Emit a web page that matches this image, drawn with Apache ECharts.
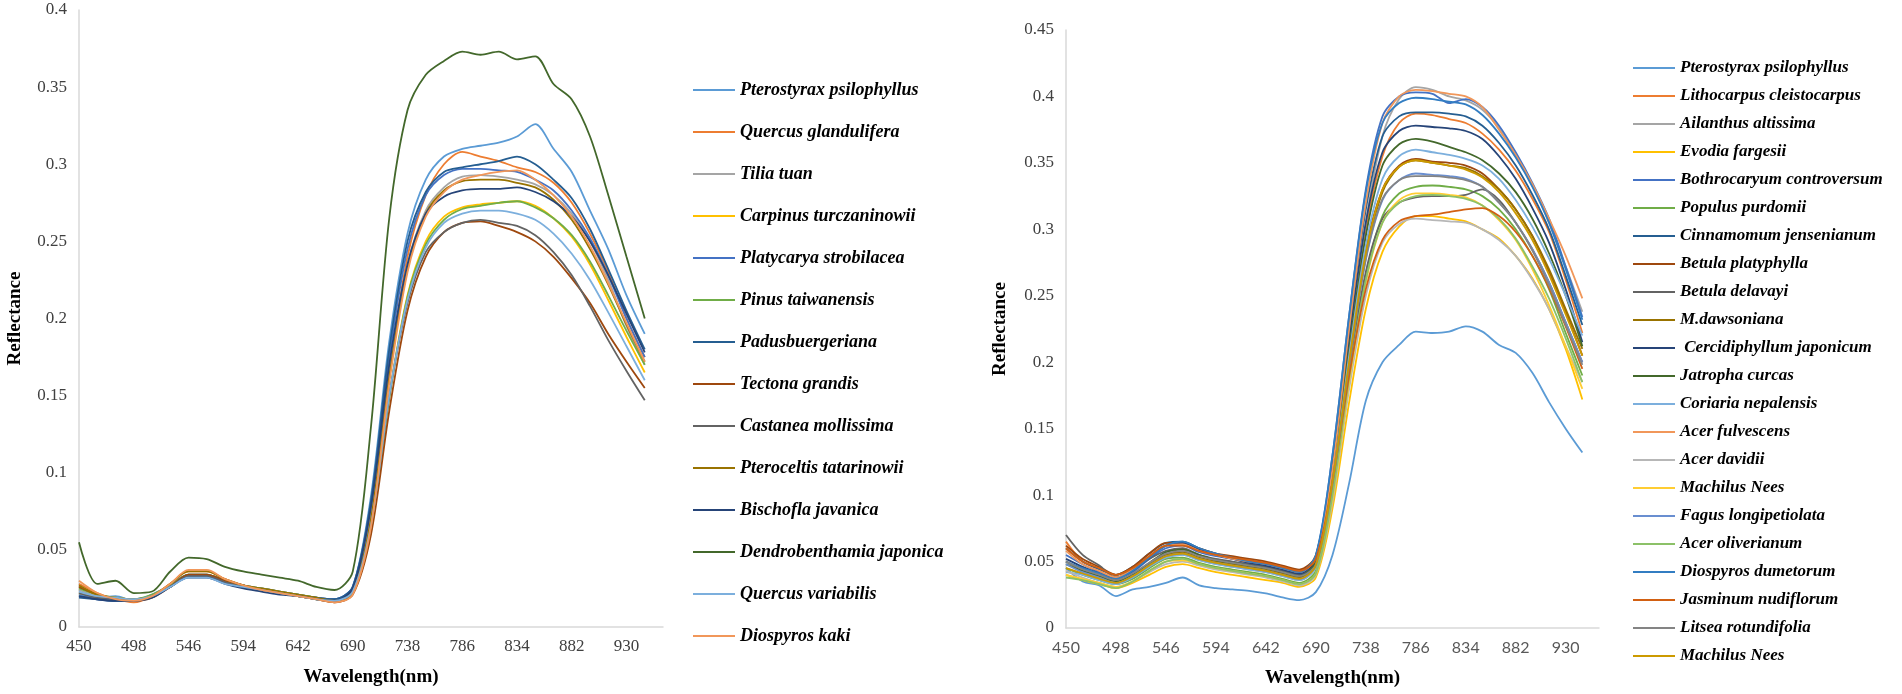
<!DOCTYPE html>
<html>
<head>
<meta charset="utf-8" />
<title>Leaf reflectance spectra</title>
<script src="https://cdn.jsdelivr.net/npm/echarts@6/dist/echarts.min.js"></script>
<style>html,body{margin:0;padding:0;background:#fff;}</style>
</head>
<body>
<div id="main" style="width:1902px;height:694px;"></div>
<script type="text/javascript">

// wavelength categories (nm), every 16 nm; 962 only extends the axis
var wavelengths = ['450','466','482','498','514','530','546','562','578','594','610','626','642','658','674','690',
  '706','722','738','754','770','786','802','818','834','850','866','882','898','914','930','946','962'];

// ---- left chart ----
var leftNames = ['Pterostyrax psilophyllus','Quercus glandulifera','Tilia tuan','Carpinus turczaninowii',
  'Platycarya strobilacea','Pinus taiwanensis','Padusbuergeriana','Tectona grandis','Castanea mollissima',
  'Pteroceltis tatarinowii','Bischofla javanica','Dendrobenthamia japonica','Quercus variabilis','Diospyros kaki'];

var lPterostyrax = [0.021,0.019,0.02,0.017,0.021,0.027,0.033,0.033,0.029,0.026,0.024,0.022,0.021,0.019,0.018,0.026,0.085,0.185,0.255,0.29,0.305,0.31,0.312,0.314,0.318,0.326,0.31,0.295,0.27,0.245,0.215,0.19];
var lQuercusG = [0.028,0.022,0.018,0.016,0.02,0.028,0.036,0.036,0.031,0.027,0.024,0.022,0.02,0.018,0.016,0.022,0.07,0.165,0.24,0.28,0.3,0.308,0.305,0.302,0.298,0.295,0.288,0.275,0.255,0.23,0.2,0.175];
var lTilia = [0.024,0.02,0.018,0.018,0.02,0.027,0.034,0.034,0.03,0.027,0.025,0.023,0.021,0.019,0.018,0.025,0.075,0.165,0.235,0.27,0.285,0.292,0.293,0.292,0.29,0.287,0.28,0.268,0.25,0.225,0.195,0.17];
var lCarpinus = [0.022,0.02,0.019,0.018,0.02,0.026,0.033,0.033,0.029,0.026,0.024,0.022,0.02,0.018,0.017,0.023,0.065,0.15,0.215,0.25,0.266,0.272,0.274,0.275,0.276,0.273,0.265,0.253,0.235,0.212,0.188,0.165];
var lPlatycarya = [0.02,0.018,0.017,0.018,0.02,0.027,0.034,0.034,0.03,0.027,0.025,0.023,0.021,0.019,0.018,0.026,0.08,0.175,0.245,0.28,0.293,0.297,0.297,0.296,0.295,0.29,0.283,0.27,0.252,0.228,0.2,0.175];
var lPinus = [0.025,0.021,0.019,0.018,0.021,0.027,0.034,0.034,0.03,0.027,0.025,0.023,0.021,0.019,0.017,0.022,0.062,0.148,0.214,0.248,0.264,0.271,0.273,0.275,0.276,0.272,0.265,0.254,0.237,0.215,0.192,0.17];
var lPadus = [0.019,0.018,0.017,0.017,0.02,0.026,0.033,0.033,0.029,0.026,0.024,0.022,0.02,0.019,0.018,0.026,0.082,0.18,0.25,0.282,0.295,0.298,0.3,0.302,0.305,0.3,0.29,0.278,0.258,0.232,0.205,0.18];
var lTectona = [0.026,0.021,0.018,0.017,0.019,0.026,0.034,0.034,0.03,0.027,0.024,0.022,0.02,0.018,0.016,0.021,0.06,0.14,0.205,0.24,0.256,0.262,0.263,0.26,0.256,0.25,0.24,0.226,0.21,0.19,0.172,0.155];
var lCastanea = [0.022,0.019,0.018,0.017,0.02,0.026,0.033,0.033,0.029,0.026,0.024,0.022,0.02,0.018,0.017,0.024,0.068,0.15,0.21,0.243,0.256,0.262,0.264,0.262,0.26,0.254,0.243,0.228,0.208,0.186,0.166,0.147];
var lPteroceltis = [0.027,0.021,0.019,0.018,0.02,0.028,0.036,0.036,0.031,0.027,0.025,0.023,0.021,0.019,0.017,0.023,0.07,0.162,0.232,0.268,0.283,0.289,0.29,0.29,0.288,0.285,0.277,0.264,0.245,0.222,0.196,0.172];
var lBischofla = [0.02,0.018,0.017,0.017,0.019,0.026,0.032,0.032,0.028,0.025,0.023,0.021,0.02,0.018,0.017,0.025,0.078,0.17,0.235,0.268,0.279,0.283,0.284,0.284,0.285,0.282,0.276,0.266,0.25,0.228,0.203,0.178];
var lDendro = [0.055,0.028,0.03,0.022,0.023,0.036,0.045,0.044,0.039,0.036,0.034,0.032,0.03,0.026,0.024,0.036,0.13,0.265,0.335,0.358,0.367,0.373,0.371,0.373,0.368,0.37,0.352,0.342,0.318,0.28,0.24,0.2];
var lQuercusV = [0.023,0.02,0.019,0.018,0.02,0.026,0.032,0.032,0.028,0.026,0.024,0.022,0.02,0.018,0.017,0.023,0.066,0.15,0.212,0.246,0.262,0.268,0.27,0.27,0.268,0.264,0.255,0.242,0.225,0.204,0.182,0.16];
var lDiospyros = [0.03,0.022,0.018,0.017,0.02,0.028,0.037,0.037,0.031,0.027,0.024,0.022,0.02,0.018,0.016,0.021,0.065,0.158,0.23,0.266,0.282,0.29,0.293,0.295,0.296,0.29,0.28,0.266,0.247,0.223,0.197,0.172];

var leftValues = [lPterostyrax,lQuercusG,lTilia,lCarpinus,lPlatycarya,lPinus,lPadus,lTectona,lCastanea,
  lPteroceltis,lBischofla,lDendro,lQuercusV,lDiospyros];

// ---- right chart ----
var rightNames = ['Pterostyrax psilophyllus','Lithocarpus cleistocarpus','Ailanthus altissima','Evodia fargesii',
  'Bothrocaryum controversum','Populus purdomii','Cinnamomum jensenianum','Betula platyphylla','Betula delavayi',
  'M.dawsoniana',' Cercidiphyllum japonicum','Jatropha curcas','Coriaria nepalensis','Acer fulvescens','Acer davidii',
  'Machilus Nees','Fagus longipetiolata','Acer oliverianum','Diospyros dumetorum','Jasminum nudiflorum',
  'Litsea rotundifolia','Machilus Nees\u00a0'];

var rPterostyrax = [0.045,0.035,0.032,0.024,0.029,0.031,0.034,0.038,0.032,0.03,0.029,0.028,0.026,0.023,0.021,0.027,0.055,0.109,0.171,0.2,0.213,0.223,0.222,0.223,0.227,0.223,0.213,0.207,0.192,0.17,0.15,0.132];
var rLithocarpus = [0.065,0.05,0.045,0.04,0.045,0.054,0.062,0.063,0.058,0.055,0.053,0.051,0.049,0.046,0.043,0.055,0.12,0.215,0.3,0.355,0.38,0.387,0.386,0.383,0.38,0.372,0.36,0.344,0.323,0.298,0.262,0.222];
var rAilanthus = [0.05,0.042,0.038,0.034,0.038,0.046,0.053,0.055,0.051,0.048,0.046,0.044,0.042,0.039,0.036,0.046,0.11,0.21,0.305,0.37,0.398,0.407,0.405,0.4,0.397,0.39,0.376,0.356,0.333,0.305,0.272,0.238];
var rEvodia = [0.04,0.036,0.033,0.03,0.034,0.04,0.046,0.048,0.045,0.042,0.04,0.038,0.036,0.034,0.031,0.038,0.09,0.17,0.24,0.283,0.302,0.31,0.31,0.308,0.306,0.3,0.293,0.28,0.263,0.24,0.21,0.172];
var rBothrocaryum = [0.055,0.048,0.042,0.038,0.042,0.052,0.06,0.062,0.057,0.054,0.052,0.049,0.047,0.044,0.041,0.054,0.13,0.235,0.33,0.385,0.4,0.403,0.402,0.395,0.398,0.392,0.378,0.358,0.335,0.308,0.272,0.234];
var rPopulus = [0.045,0.04,0.036,0.033,0.037,0.045,0.052,0.053,0.049,0.046,0.044,0.042,0.04,0.037,0.034,0.043,0.1,0.19,0.265,0.31,0.327,0.332,0.333,0.332,0.33,0.325,0.315,0.3,0.28,0.255,0.222,0.19];
var rCinnamomum = [0.06,0.05,0.044,0.04,0.046,0.056,0.064,0.065,0.06,0.056,0.053,0.05,0.048,0.045,0.042,0.054,0.125,0.225,0.315,0.37,0.385,0.388,0.388,0.387,0.385,0.378,0.365,0.348,0.326,0.3,0.265,0.228];
var rBetulaP = [0.062,0.052,0.046,0.04,0.046,0.056,0.064,0.064,0.06,0.056,0.054,0.052,0.05,0.047,0.044,0.054,0.115,0.205,0.285,0.33,0.348,0.353,0.351,0.35,0.348,0.342,0.33,0.315,0.295,0.268,0.238,0.205];
var rBetulaD = [0.07,0.055,0.047,0.038,0.044,0.052,0.058,0.06,0.055,0.052,0.05,0.048,0.046,0.043,0.04,0.05,0.11,0.195,0.268,0.308,0.32,0.324,0.325,0.325,0.326,0.33,0.322,0.305,0.285,0.26,0.23,0.2];
var rDawsoniana = [0.05,0.044,0.04,0.036,0.04,0.048,0.055,0.057,0.053,0.05,0.048,0.046,0.044,0.041,0.038,0.048,0.11,0.2,0.28,0.328,0.347,0.352,0.35,0.348,0.346,0.34,0.33,0.315,0.295,0.27,0.24,0.21];
var rCercidiphyllum = [0.052,0.046,0.041,0.037,0.043,0.053,0.062,0.064,0.059,0.055,0.052,0.049,0.047,0.044,0.041,0.052,0.12,0.218,0.305,0.358,0.374,0.378,0.377,0.376,0.374,0.368,0.355,0.338,0.316,0.29,0.255,0.215];
var rJatropha = [0.048,0.043,0.039,0.035,0.04,0.049,0.057,0.059,0.055,0.051,0.049,0.047,0.045,0.042,0.039,0.05,0.115,0.21,0.295,0.348,0.364,0.368,0.366,0.362,0.358,0.352,0.342,0.328,0.308,0.282,0.25,0.212];
var rCoriaria = [0.042,0.04,0.036,0.033,0.038,0.046,0.053,0.055,0.051,0.048,0.046,0.044,0.042,0.039,0.036,0.046,0.11,0.205,0.288,0.338,0.355,0.36,0.358,0.356,0.353,0.348,0.338,0.322,0.302,0.278,0.25,0.22];
var rAcerF = [0.058,0.048,0.043,0.038,0.044,0.054,0.062,0.063,0.058,0.055,0.052,0.05,0.048,0.045,0.042,0.053,0.12,0.225,0.32,0.38,0.4,0.405,0.404,0.402,0.4,0.392,0.375,0.356,0.334,0.308,0.28,0.248];
var rAcerD = [0.043,0.038,0.034,0.031,0.035,0.042,0.048,0.05,0.047,0.044,0.042,0.04,0.038,0.035,0.032,0.04,0.095,0.18,0.25,0.29,0.304,0.308,0.307,0.306,0.305,0.3,0.292,0.28,0.262,0.24,0.212,0.185];
var rMachilus1 = [0.04,0.037,0.034,0.031,0.035,0.043,0.05,0.051,0.048,0.045,0.043,0.041,0.039,0.036,0.033,0.041,0.098,0.185,0.26,0.305,0.322,0.327,0.327,0.326,0.324,0.318,0.307,0.292,0.27,0.243,0.212,0.18];
var rFagus = [0.048,0.042,0.038,0.034,0.039,0.047,0.054,0.056,0.052,0.049,0.047,0.045,0.043,0.04,0.037,0.047,0.108,0.198,0.277,0.322,0.337,0.342,0.341,0.34,0.338,0.332,0.32,0.305,0.285,0.26,0.23,0.2];
var rAcerO = [0.038,0.036,0.033,0.03,0.035,0.043,0.05,0.052,0.048,0.045,0.043,0.041,0.039,0.036,0.033,0.041,0.1,0.188,0.262,0.305,0.32,0.325,0.326,0.325,0.323,0.318,0.308,0.293,0.272,0.248,0.218,0.185];
var rDiospyros = [0.05,0.045,0.041,0.037,0.043,0.053,0.062,0.065,0.06,0.056,0.053,0.05,0.048,0.045,0.042,0.055,0.13,0.235,0.328,0.38,0.395,0.399,0.398,0.396,0.394,0.386,0.372,0.354,0.332,0.305,0.27,0.232];
var rJasminum = [0.06,0.05,0.045,0.04,0.045,0.054,0.062,0.062,0.058,0.055,0.053,0.051,0.049,0.046,0.043,0.052,0.11,0.19,0.255,0.292,0.306,0.31,0.311,0.313,0.315,0.316,0.31,0.298,0.28,0.256,0.227,0.195];
var rLitsea = [0.05,0.044,0.04,0.036,0.041,0.049,0.056,0.058,0.054,0.051,0.049,0.047,0.045,0.042,0.039,0.048,0.108,0.198,0.278,0.323,0.337,0.34,0.34,0.339,0.337,0.332,0.32,0.305,0.284,0.258,0.228,0.198];
var rMachilus2 = [0.045,0.041,0.037,0.034,0.039,0.047,0.054,0.056,0.052,0.049,0.047,0.045,0.043,0.04,0.037,0.047,0.11,0.2,0.282,0.33,0.347,0.352,0.35,0.348,0.345,0.339,0.328,0.312,0.292,0.266,0.236,0.205];

var rightValues = [rPterostyrax,rLithocarpus,rAilanthus,rEvodia,rBothrocaryum,rPopulus,rCinnamomum,rBetulaP,
  rBetulaD,rDawsoniana,rCercidiphyllum,rJatropha,rCoriaria,rAcerF,rAcerD,rMachilus1,rFagus,rAcerO,rDiospyros,
  rJasminum,rLitsea,rMachilus2];

// office palette
var palette = ['#5B9BD5','#ED7D31','#A5A5A5','#FFC000','#4472C4','#70AD47','#255E91','#9E480E','#636363',
  '#997300','#264478','#43682B','#7CAFDD','#F1975A','#B7B7B7','#FFCD33','#698ED0','#8CC168','#327DC2',
  '#D26012','#848484','#CC9A00'];

var serif = 'Liberation Serif';

function buildSeries(names, values, axisIdx) {
  return names.map(function (n, i) {
    return {
      name: n,
      type: 'line',
      xAxisIndex: axisIdx,
      yAxisIndex: axisIdx,
      data: values[i],
      symbol: 'none',
      showSymbol: false,
      smooth: 0.3,
      lineStyle: { width: 1.8, color: palette[i] },
      itemStyle: { color: palette[i] },
      emphasis: { disabled: true }
    };
  });
}

function legendFor(names, left, top, gap, size) {
  return {
    data: names,
    orient: 'vertical',
    left: left,
    top: top,
    icon: 'rect',
    itemWidth: 42,
    itemHeight: 2,
    itemGap: gap,
    selectedMode: false,
    textStyle: { fontFamily: serif, fontStyle: 'italic', fontWeight: 'bold', fontSize: size, color: '#000', lineHeight: 20 }
  };
}

var axisLineStyle = { show: true, lineStyle: { color: '#d9d9d9', width: 1.5 } };
var nameStyle = { fontFamily: serif, fontWeight: 'bold', fontSize: 19, color: '#000' };

var chart = echarts.init(document.getElementById('main'));
chart.setOption({
  animation: false,
  backgroundColor: '#fff',
  grid: [
    { left: 79, top: 10, width: 584, height: 617 },
    { left: 1066, top: 30, width: 533, height: 598 }
  ],
  xAxis: [
    {
      gridIndex: 0, type: 'category', data: wavelengths, boundaryGap: false,
      axisLine: axisLineStyle, axisTick: { show: false },
      axisLabel: { interval: 2, fontFamily: serif, fontSize: 17, color: '#404040', margin: 11 },
      name: 'Wavelength(nm)', nameLocation: 'middle', nameGap: 41, nameTextStyle: nameStyle
    },
    {
      gridIndex: 1, type: 'category', data: wavelengths, boundaryGap: false,
      axisLine: axisLineStyle, axisTick: { show: false },
      axisLabel: { interval: 2, fontFamily: 'Lato', fontSize: 16, color: '#595959', margin: 12 },
      name: 'Wavelength(nm)', nameLocation: 'middle', nameGap: 41, nameTextStyle: nameStyle
    }
  ],
  yAxis: [
    {
      gridIndex: 0, type: 'value', min: 0, max: 0.4, interval: 0.05,
      axisLine: axisLineStyle, axisTick: { show: false }, splitLine: { show: false },
      axisLabel: { fontFamily: serif, fontSize: 17, color: '#404040', margin: 12 },
      name: 'Reflectance', nameLocation: 'middle', nameRotate: 90, nameGap: 54, nameTextStyle: nameStyle
    },
    {
      gridIndex: 1, type: 'value', min: 0, max: 0.45, interval: 0.05,
      axisLine: axisLineStyle, axisTick: { show: false }, splitLine: { show: false },
      axisLabel: { fontFamily: serif, fontSize: 17, color: '#404040', margin: 12 },
      name: 'Reflectance', nameLocation: 'middle', nameRotate: 90, nameGap: 56, nameTextStyle: nameStyle
    }
  ],
  legend: [
    legendFor(leftNames, 688, 75, 22, 18),
    legendFor(rightNames, 1628, 53, 8, 17)
  ],
  series: buildSeries(leftNames, leftValues, 0).concat(buildSeries(rightNames, rightValues, 1))
});
</script>
</body>
</html>
